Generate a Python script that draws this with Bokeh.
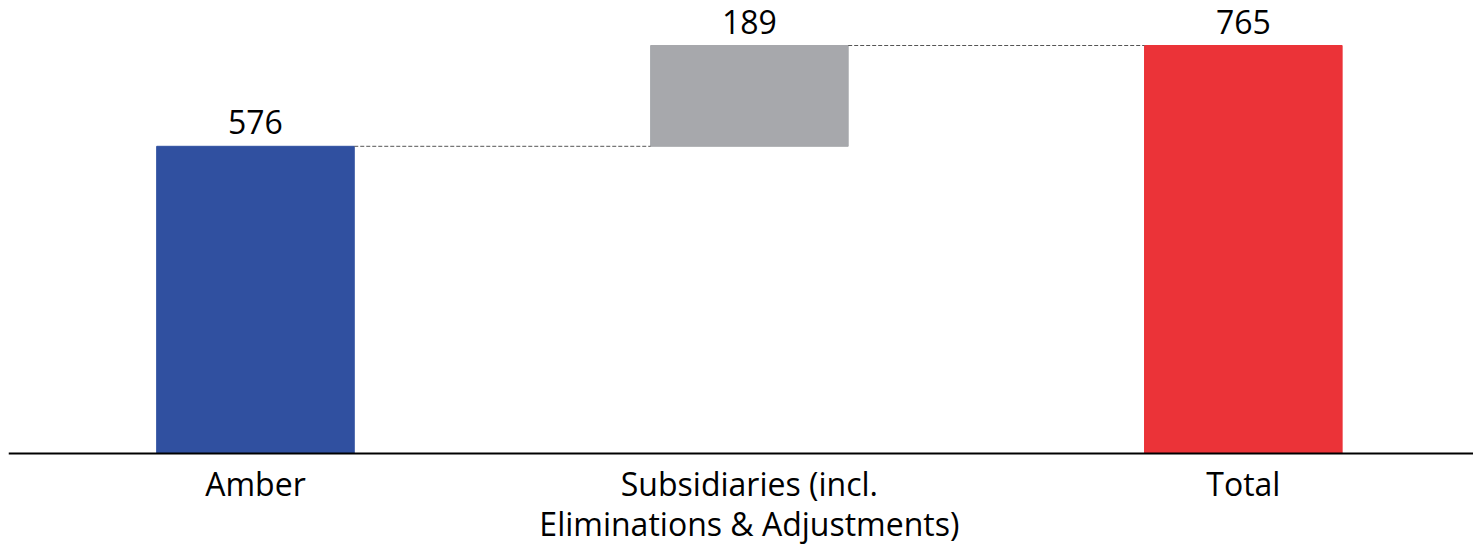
from bokeh.plotting import figure
from bokeh.models import Range1d, ColumnDataSource, Span
from bokeh.embed import file_html
from bokeh.resources import INLINE
from bokeh.core.properties import value

categories = ["Amber", "Subsidiaries (incl.\nEliminations & Adjustments)", "Total"]
values = [576, 189, 765]
kinds = ["total", "delta", "total"]
colors = ["#3050A0", "#A7A8AC", "#EB3338"]

xs = [i + 0.5 for i in range(len(categories))]
bottoms, tops = [], []
running = 0
for v, k in zip(values, kinds):
    if k == "total":
        bottoms.append(0)
        tops.append(v)
        running = v
    else:
        bottoms.append(running)
        tops.append(running + v)
        running += v

src = ColumnDataSource(dict(x=xs, bottom=bottoms, top=tops, color=colors,
                            label=[str(v) for v in values],
                            cat=categories, zero=[0] * len(xs)))

p = figure(width=1473, height=546, output_backend="svg", toolbar_location=None,
           x_range=Range1d(0, 2.966), y_range=Range1d(-174.4, 849.4),
           min_border_left=8, min_border_right=0, min_border_top=0, min_border_bottom=0)
p.outline_line_color = None
p.grid.visible = False
p.xaxis.visible = False
p.yaxis.visible = False

bw = 0.4
p.vbar(x="x", width=bw, bottom="bottom", top="top", color="color", source=src)

# connectors
cx0 = [xs[i] + bw / 2 for i in range(len(xs) - 1)]
cx1 = [xs[i + 1] - bw / 2 for i in range(len(xs) - 1)]
cy = [tops[i] for i in range(len(xs) - 1)]
p.segment(x0=cx0, y0=cy, x1=cx1, y1=cy, line_color="#555555", line_width=1, line_dash="4 2")

# baseline (category axis line)
p.add_layout(Span(location=0, dimension="width", line_color="#000000", line_width=2))

# value labels
p.text(x="x", y="top", text="label", source=src, text_align="center",
       text_baseline="bottom", y_offset=-12, text_font=value("Open Sans"),
       text_font_size="32px", text_color="#000000")

# category labels
p.text(x="x", y="zero", text="cat", source=src, text_align="center",
       text_baseline="top", y_offset=9, text_font=value("Open Sans"),
       text_font_size="32px", text_line_height=0.92, text_color="#000000")

open("out.html", "w").write(file_html(p, INLINE))
